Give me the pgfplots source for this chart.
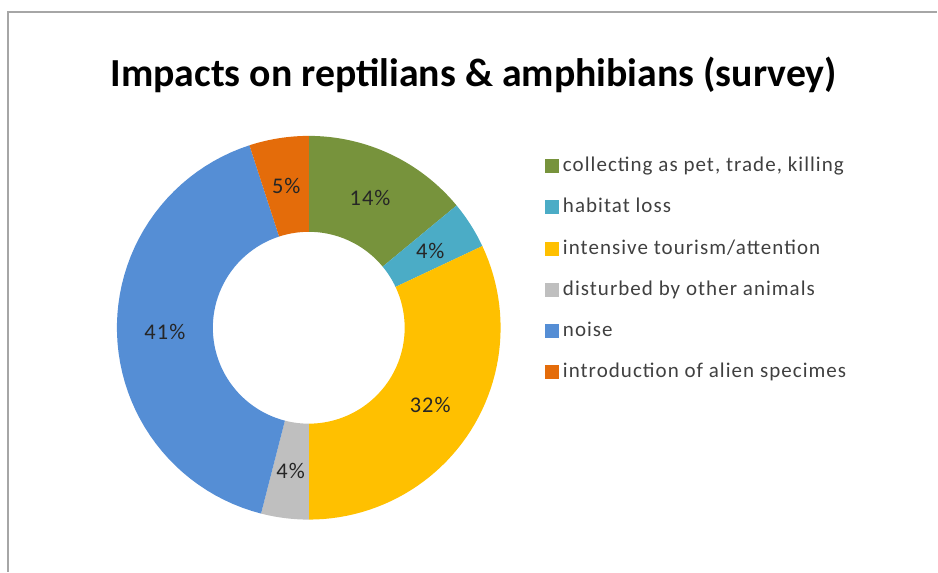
\documentclass[border=0pt]{standalone}
\usepackage{pgfplots}
\pgfplotsset{compat=1.18}
\usepackage{fontspec}
\setmainfont{Carlito}
\newfontfamily\spacedfont[LetterSpace=5]{Carlito}

\definecolor{cgreen}{HTML}{77933C}
\definecolor{cteal}{HTML}{4BACC6}
\definecolor{cyellow}{HTML}{FFC000}
\definecolor{cgray}{HTML}{BFBFBF}
\definecolor{cblue}{HTML}{558ED5}
\definecolor{corange}{HTML}{E46C0A}
\definecolor{frame}{HTML}{A6A6A6}
\definecolor{legtext}{HTML}{404040}

% donut geometry (axis units)
\def\cx{309}
\def\cy{244}
\def\Ro{192}
\def\Ri{96}
\def\Rm{144}

% #1 cumulative share before the slice, #2 share, #3 colour, #4 legend entry
\newcommand{\donutslice}[4]{%
  \pgfmathsetmacro\aA{90-3.6*#1}%
  \pgfmathsetmacro\aB{90-3.6*(#1+#2)}%
  \pgfmathsetmacro\aM{90-3.6*(#1+#2/2)}%
  \pgfmathsetmacro\lx{\cx+\Rm*cos(\aM)}%
  \pgfmathsetmacro\ly{\cy+\Rm*sin(\aM)}%
  \edef\doslice{%
    \noexpand\addplot[fill=#3, draw=none, domain=0:101, samples=102]
      ({\cx+((x<50.5)*\Ro+(x>50.5)*\Ri)*cos((x<50.5)*(\aA+(\aB-\aA)*x/50)+(x>50.5)*(\aB+(\aA-\aB)*(x-51)/50))},
       {\cy+((x<50.5)*\Ro+(x>50.5)*\Ri)*sin((x<50.5)*(\aA+(\aB-\aA)*x/50)+(x>50.5)*(\aB+(\aA-\aB)*(x-51)/50))});
    \noexpand\addlegendentry{#4}
    \noexpand\node[font=\noexpand\spacedfont\noexpand\fontsize{11.2}{13}\noexpand\selectfont, text=black!85]
      at (axis cs:\lx,\ly) {#2\noexpand\%};
  }%
  \doslice
}

\begin{document}
\begin{tikzpicture}
\begin{axis}[
  x=0.5pt, y=0.5pt,
  xmin=0, xmax=938, ymin=0, ymax=572,
  hide axis, clip=false,
  legend cell align=left,
  legend style={
    at={(axis cs:545,416.5)}, anchor=north west,
    draw=none, fill=none, inner sep=0pt,
    font=\spacedfont\fontsize{10.5}{12}\selectfont, text=legtext,
    row sep=10.1pt,
    nodes={inner sep=0pt, text height=8pt, text depth=2.5pt},
    /tikz/every odd column/.append style={column sep=2pt},
  },
  legend image code/.code={\fill[#1] (0pt,-3.5pt) rectangle (7pt,3.5pt);},
]
\path (axis cs:0,0) rectangle (axis cs:938,572);
\draw[frame, line width=0.75pt] (axis cs:8,0) -- (axis cs:8,560) -- (axis cs:938,560);

\donutslice{0}{14}{cgreen}{collecting as pet, trade, killing}
\donutslice{14}{4}{cteal}{habitat loss}
\donutslice{18}{32}{cyellow}{intensive tourism/attention}
\donutslice{50}{4}{cgray}{disturbed by other animals}
\donutslice{54}{41}{cblue}{noise}
\donutslice{95}{5}{corange}{introduction of alien specimes}

\node[anchor=base, font=\bfseries\fontsize{19.9}{24}\selectfont]
  at (axis cs:474,485) {Impacts on reptilians \& amphibians (survey)};
\end{axis}
\end{tikzpicture}
\end{document}
